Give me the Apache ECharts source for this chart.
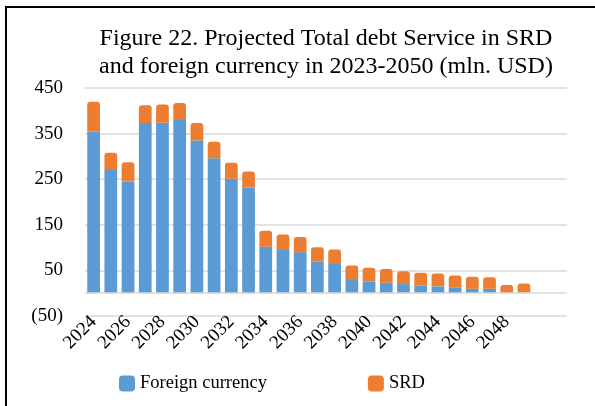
<!DOCTYPE html>
<html>
<head>
<meta charset="utf-8">
<script src="https://cdn.jsdelivr.net/npm/echarts@6/dist/echarts.min.js"></script>
<style>html,body{margin:0;padding:0;background:#fff}#c{width:595px;height:406px}</style>
</head>
<body>
<div id="c"></div>
<script>
var years = ["2024","2025","2026","2027","2028","2029","2030","2031","2032","2033","2034","2035","2036","2037","2038","2039","2040","2041","2042","2043","2044","2045","2046","2047","2048","2049","",""];
var foreignCurrency = [354,270,245,373,374,380,335,296,251,232,102,95,90,69,64,31,26,23,20,17,15,13,10,10,0,1];
var srd = [66,38,42,39,40,37,38,36,35,35,35,34,33,32,32,30,30,30,28,28,28,26,26,25,18,20];
var yTicks = {min:-50, max:450, interval:100};

var chart = echarts.init(document.getElementById('c'), null, {renderer:'canvas'});
var serif = '"Liberation Serif","Times New Roman",serif';
chart.setOption({
  animation:false,
  backgroundColor:'#fff',
  graphic:[{type:'rect', shape:{x:6, y:7, width:620, height:430}, style:{fill:'none', stroke:'#000', lineWidth:2}, silent:true, z:100}],
  title:{
    text:'Figure 22. Projected Total debt Service in SRD\nand foreign currency in 2023-2050 (mln. USD)',
    left:321, top:20, textAlign:'center',
    textStyle:{fontFamily:serif, fontSize:24, fontWeight:'normal', color:'#000', lineHeight:28}
  },
  legend:{
    left:114, top:369, itemWidth:16, itemHeight:16, itemGap:101,
    icon:'roundRect',
    textStyle:{fontFamily:serif, fontSize:18.5, color:'#000'},
    data:['Foreign currency','SRD']
  },
  grid:{left:85, right:28, top:88, bottom:90, containLabel:false},
  xAxis:{
    type:'category', data:years,
    axisLine:{show:false}, axisTick:{show:false},
    axisLabel:{interval:1, rotate:45, margin:3, fontFamily:serif, fontSize:19, color:'#000'}
  },
  yAxis:{
    type:'value', min:yTicks.min, max:yTicks.max, interval:yTicks.interval,
    axisLine:{show:false}, axisTick:{show:false},
    splitLine:{lineStyle:{color:'#d9d9d9', width:1.5}},
    axisLabel:{margin:22, fontFamily:serif, fontSize:19, color:'#000',
      formatter:function(v){return v<0?'('+Math.abs(v)+')':String(v);}}
  },
  series:[
    {name:'Foreign currency', type:'bar', stack:'t', data:foreignCurrency, barCategoryGap:'26%',
     itemStyle:{color:'#5b9bd5'},
     markLine:{silent:true, symbol:'none', label:{show:false}, lineStyle:{color:'#d9d9d9', width:1.5, type:'solid'}, data:[{yAxis:0}]}},
    {name:'SRD', type:'bar', stack:'t', data:srd, itemStyle:{color:'#ed7d31', borderRadius:[3,3,0,0]}}
  ]
});
</script>
</body>
</html>
